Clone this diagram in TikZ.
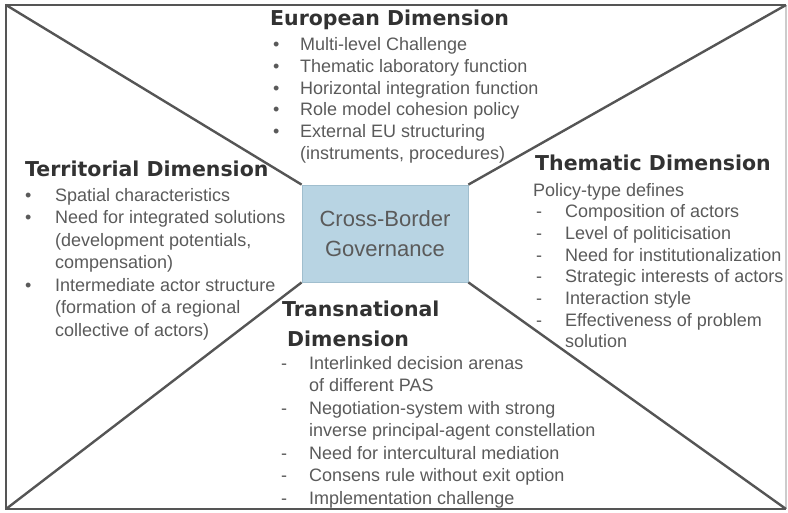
\documentclass[tikz,border=0pt]{standalone}
\usepackage{fontspec}
\setmainfont{Liberation Sans}
\newfontfamily\titlefont{DejaVu Sans}
\definecolor{linegray}{RGB}{85,85,85}
\definecolor{titlegray}{RGB}{50,50,50}
\definecolor{bodygray}{RGB}{90,90,90}
\definecolor{boxblue}{RGB}{184,212,227}
\definecolor{boxedge}{RGB}{160,190,206}
\tikzset{
  frame/.style={draw=linegray, line width=2.6pt},
  diag/.style={draw=linegray, line width=2.4pt},
  titletext/.style={anchor=base west, inner sep=0pt, text=titlegray, font=\titlefont\bfseries\fontsize{20.5}{30}\selectfont},
  bodytext/.style={anchor=base west, inner sep=0pt, text=bodygray},
  centerbox/.style={fill=boxblue, draw=boxedge, line width=0.8pt, minimum width=166pt, minimum height=97pt, inner sep=0pt, align=center, text=bodygray, font=\fontsize{22}{30}\selectfont}
}
\newcommand{\bu}[1]{\makebox[#1][l]{\textbullet}}
\newcommand{\da}[1]{\makebox[#1][l]{-}}
\begin{document}
\begin{tikzpicture}[x=1pt,y=-1pt]
\useasboundingbox (0,0) rectangle (788,512);
\coordinate (tl) at (6,5);
\coordinate (tr) at (786,5);
\coordinate (br) at (786,509);
\coordinate (bl) at (6,509);
\draw[draw=gray!40, line width=1.2pt] (tr) -- (br);
\draw[frame] (tr) -- (tl) -- (bl) -- (br);

\node[centerbox] (cbg) at (385,233.5) {Cross-Border\\Governance};

\draw[diag] (tl) -- (cbg.north west);
\draw[diag] (tr) -- (cbg.north east);
\draw[diag] (bl) -- (cbg.south west);
\draw[diag] (br) -- (cbg.south east);

% European
\node[titletext] (eut) at (270,25) {European Dimension};
\node[bodytext] (eub) at (273,50.5) {\fontsize{18}{21.8}\selectfont
\begin{tabular}[t]{@{}l@{}l@{}}
\bu{27pt} & Multi-level Challenge\\
\bu{27pt} & Thematic laboratory function\\
\bu{27pt} & Horizontal integration function\\
\bu{27pt} & Role model cohesion policy\\
\bu{27pt} & External EU structuring\\
 & (instruments, procedures)
\end{tabular}};

% Territorial
\node[titletext] (tet) at (25,176) {Territorial Dimension};
\node[bodytext] (teb) at (25,201) {\fontsize{18}{22.5}\selectfont
\begin{tabular}[t]{@{}l@{}l@{}}
\bu{30pt} & Spatial characteristics\\
\bu{30pt} & Need for integrated solutions\\
 & (development potentials,\\
 & compensation)\\
\bu{30pt} & Intermediate actor structure\\
 & (formation of a regional\\
 & collective of actors)
\end{tabular}};

% Thematic
\node[titletext] (tht) at (535,170) {Thematic Dimension};
\node[bodytext] (thb) at (533,196) {\fontsize{18}{21.7}\selectfont
\begin{tabular}[t]{@{}l@{}l@{}}
\multicolumn{2}{@{}l@{}}{Policy-type defines}\\
\hspace{3pt}\da{29pt} & Composition of actors\\
\hspace{3pt}\da{29pt} & Level of politicisation\\
\hspace{3pt}\da{29pt} & Need for institutionalization\\
\hspace{3pt}\da{29pt} & Strategic interests of actors\\
\hspace{3pt}\da{29pt} & Interaction style\\
\hspace{3pt}\da{29pt} & Effectiveness of problem\\
 & solution
\end{tabular}};

% Transnational
\node[titletext, align=left] (trt) at (282,346) {Transnational\\\hspace{5pt}Dimension};
\node[bodytext] (trb) at (281,369) {\fontsize{18}{22.5}\selectfont
\begin{tabular}[t]{@{}l@{}l@{}}
\da{28pt} & Interlinked decision arenas\\
 & of different PAS\\
\da{28pt} & Negotiation-system with strong\\
 & inverse principal-agent constellation\\
\da{28pt} & Need for intercultural mediation\\
\da{28pt} & Consens rule without exit option\\
\da{28pt} & Implementation challenge
\end{tabular}};
\end{tikzpicture}
\end{document}
